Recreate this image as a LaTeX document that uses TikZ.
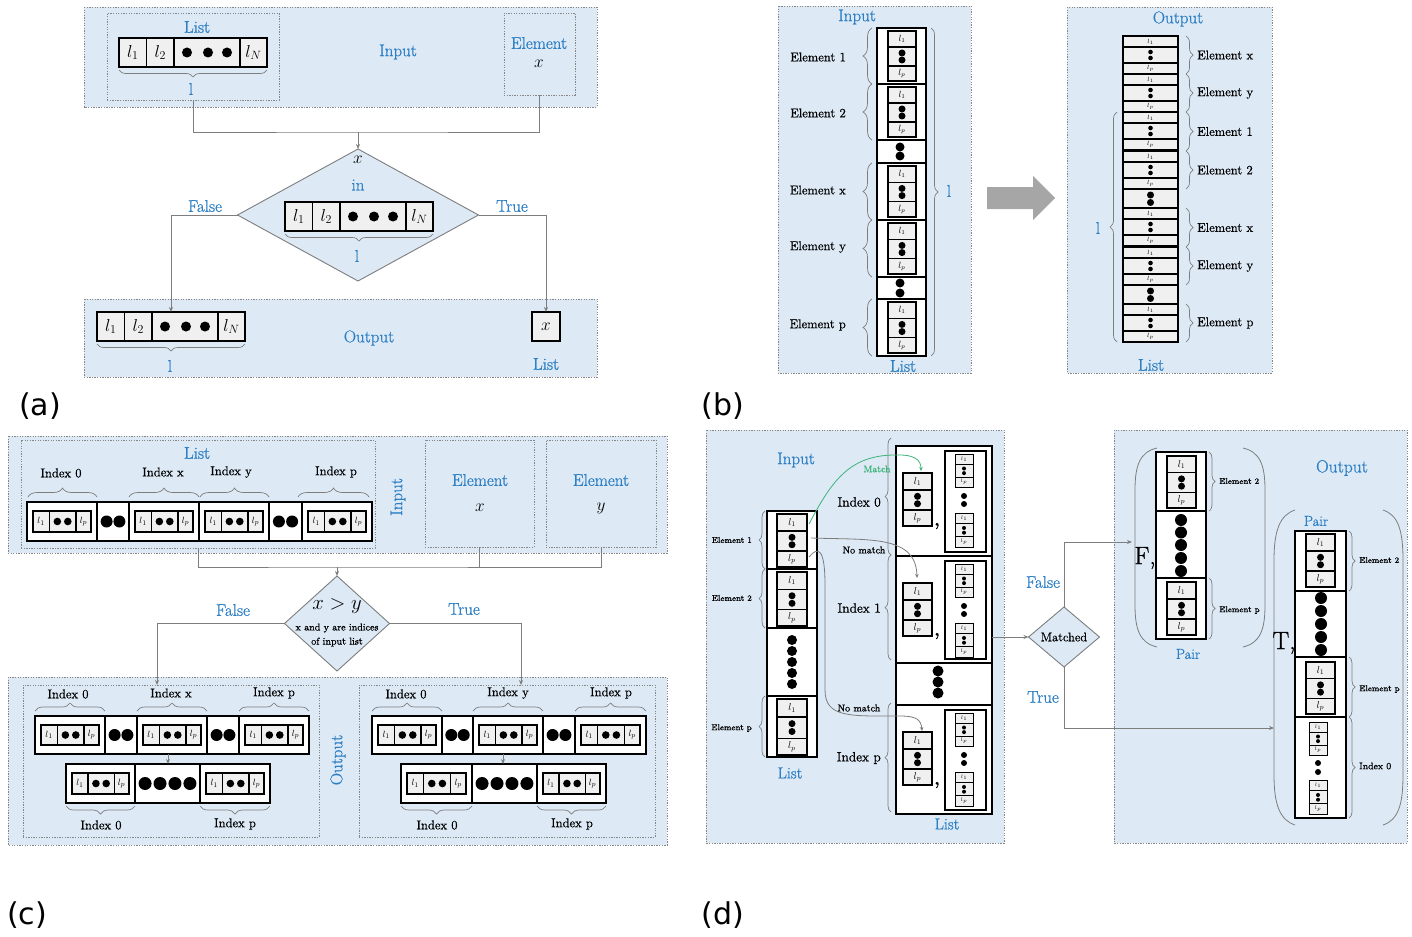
\documentclass[tikz,border=0pt]{standalone}
\usepackage{fontspec}
\setmainfont{Latin Modern Roman}[FakeBold=0.8]
\usetikzlibrary{shapes.geometric,arrows.meta,decorations.pathreplacing}
\newfontfamily\labfont{DejaVu Sans}
\definecolor{panelbg}{RGB}{221,233,245}
\definecolor{txtblue}{RGB}{46,128,196}
\definecolor{cellgray}{RGB}{240,240,240}
\definecolor{linegray}{RGB}{125,125,125}
\definecolor{dashgray}{RGB}{135,135,135}
\definecolor{matchgreen}{RGB}{60,180,120}
\definecolor{arrowgray}{RGB}{166,166,166}
\newcommand{\fsz}[1]{\fontsize{#1}{#1}\selectfont}
\tikzset{
  panel/.style={draw=dashgray, dash pattern=on 1.3pt off 1.3pt, line width=0.7pt, fill=panelbg},
  subpanel/.style={draw=dashgray, dash pattern=on 1.3pt off 1.3pt, line width=0.7pt},
  cellbox/.style={draw=black, line width=1.4pt, fill=cellgray},
  wcell/.style={draw=black, line width=1.4pt, fill=white},
  inl/.style={draw=black, line width=1.4pt},
  conn/.style={draw=linegray, line width=0.9pt},
  arr/.style={conn, -{Stealth[length=5pt,width=4pt]}},
  brc/.style={decorate, decoration={brace, amplitude=#1pt}, draw=linegray, line width=0.7pt},
  blab/.style={text=txtblue, inner sep=0},
  b16/.style={blab, font=\fsz{17}},
  k12/.style={inner sep=0, font=\fsz{12.8}},
  diam/.style={diamond, draw=linegray, fill=panelbg, line width=0.9pt, inner sep=0, outer sep=0},
  plab/.style={font=\labfont\fsz{30}, inner sep=0},
}
% vertical element: x y w h dotradius fontsize linewidth
\newcommand{\velem}[7]{%
  \draw[cellbox, line width=#7pt] ({#1},{#2}) rectangle ++({#3},{#4});
  \draw[inl, line width=#7pt] ({#1},{#2+0.32*(#4)}) -- ++({#3},0);
  \draw[inl, line width=#7pt] ({#1},{#2+0.70*(#4)}) -- ++({#3},0);
  \node[inner sep=0,font=\fsz{#6}] at ({#1+0.5*(#3)},{#2+0.16*(#4)}) {$l_1$};
  \fill ({#1+0.5*(#3)},{#2+0.44*(#4)}) circle (#5pt);
  \fill ({#1+0.5*(#3)},{#2+0.58*(#4)}) circle (#5pt);
  \node[inner sep=0,font=\fsz{#6}] at ({#1+0.5*(#3)},{#2+0.85*(#4)}) {$l_p$};
}
% horizontal element: x y w h dotradius fontsize linewidth
\newcommand{\helem}[7]{%
  \draw[cellbox, line width=#7pt] ({#1},{#2}) rectangle ++({#3},{#4});
  \draw[inl, line width=#7pt] ({#1+0.28*(#3)},{#2}) -- ++(0,{#4});
  \draw[inl, line width=#7pt] ({#1+0.74*(#3)},{#2}) -- ++(0,{#4});
  \node[inner sep=0,font=\fsz{#6}] at ({#1+0.14*(#3)},{#2+0.5*(#4)}) {$l_1$};
  \fill ({#1+0.42*(#3)},{#2+0.5*(#4)}) circle (#5pt);
  \fill ({#1+0.60*(#3)},{#2+0.5*(#4)}) circle (#5pt);
  \node[inner sep=0,font=\fsz{#6}] at ({#1+0.87*(#3)},{#2+0.5*(#4)}) {$l_p$};
}
% (c) cell with element
\newcommand{\cEl}[4]{%
  \draw[wcell] ({#1},{#2}) rectangle ++({#3},{#4});
  \helem{#1+6}{#2+9}{#3-12}{#4-18}{3.8}{9.5}{1.2}
}
\newcommand{\hdcell}[4]{%
  \draw[wcell] ({#1},{#2}) rectangle ++({#3},{#4});
  \fill ({#1+0.3*(#3)},{#2+0.5*(#4)}) circle (6pt);
  \fill ({#1+0.7*(#3)},{#2+0.5*(#4)}) circle (6pt);
}
\newcommand{\hdfour}[4]{%
  \draw[wcell] ({#1},{#2}) rectangle ++({#3},{#4});
  \foreach \k in {0.155,0.385,0.615,0.845}{\fill ({#1+\k*(#3)},{#2+0.5*(#4)}) circle (6.5pt);}
}
% braces
\newcommand{\brD}[4]{\draw[brc=#4] (#2,#3) -- (#1,#3);}
\newcommand{\brU}[4]{\draw[brc=#4] (#1,#3) -- (#2,#3);}
\newcommand{\brL}[4]{\draw[brc=#4] (#3,#2) -- (#3,#1);}
\newcommand{\brR}[4]{\draw[brc=#4] (#3,#1) -- (#3,#2);}
% named box
\newcommand{\boxnode}[6]{\node[#6, anchor=north west, inner sep=0, outer sep=0, minimum width={(#4)-(#2)}, minimum height={(#5)-(#3)}] (#1) at (#2,#3) {};}
% (a) array
\newcommand{\arrA}[3]{%
  \node[inner sep=0, outer sep=0, minimum width=148pt, minimum height=29pt, anchor=north west] (#1) at (#2,#3) {};
  \begin{scope}[shift={(#2,#3)}]
    \draw[cellbox] (0,0) rectangle (27.5,29);
    \draw[cellbox] (27.5,0) rectangle (55,29);
    \draw[cellbox] (55,0) rectangle (121,29);
    \draw[cellbox] (121,0) rectangle (148,29);
    \node[inner sep=0,font=\fsz{17}] at (13.75,14.5) {$l_1$};
    \node[inner sep=0,font=\fsz{17}] at (41.25,14.5) {$l_2$};
    \node[inner sep=0,font=\fsz{17}] at (134.5,14.5) {$l_N$};
    \fill (68,14.5) circle (5pt);
    \fill (89,14.5) circle (5pt);
    \fill (108,14.5) circle (5pt);
  \end{scope}
}
% (b) input element row
\newcommand{\bIn}[2]{%
  \draw[wcell] (877,#1) rectangle (926,#2);
  \velem{888}{#1+3}{28}{#2-#1-6}{3.5}{9}{1.3}
}
% (b) output element
\newcommand{\bOut}[1]{%
  \draw[cellbox, line width=1.2pt] (1123,{#1}) rectangle (1178,{#1+11});
  \draw[cellbox, line width=1.2pt] (1123,{#1+11}) rectangle (1178,{#1+27});
  \draw[cellbox, line width=1.2pt] (1123,{#1+27}) rectangle (1178,{#1+38});
  \node[inner sep=0,font=\fsz{6}] at (1150.5,{#1+5.5}) {$l_1$};
  \fill (1150.5,{#1+16}) circle (2.3pt);
  \fill (1150.5,{#1+22}) circle (2.3pt);
  \node[inner sep=0,font=\fsz{6}] at (1150.5,{#1+32.5}) {$l_p$};
}
% (d) input element row
\newcommand{\dIn}[2]{%
  \draw[wcell] (767,#1) rectangle (817,#2);
  \velem{777}{#1+3}{30}{#2-#1-5}{3.5}{10}{1.3}
}
% (d) index row: top, height
\newcommand{\dIdx}[2]{%
  \draw[wcell] (896,#1) rectangle (992,{#1+#2});
  \velem{903}{#1+27}{29}{53}{3.5}{10}{1.3}
  \node[inner sep=0,font=\fsz{18}\bfseries] at (937,{#1+80}) {,};
  \draw[wcell] (945,{#1+5}) rectangle (986,{#1+#2-4});
  \velem{955}{#1+8}{18}{33}{2}{5}{1}
  \fill (964,{#1+50}) circle (3pt);
  \fill (964,{#1+58}) circle (3pt);
  \velem{955}{#1+67}{18}{34}{2}{5}{1}
}
\begin{document}
\begin{tikzpicture}[x=1pt,y=-1pt]
\useasboundingbox (0,0) rectangle (1412,936);
% ================= (a) =================
\draw[panel] (84,7) rectangle (597,107);
\boxnode{aList}{107}{13}{279}{100}{subpanel}
\node[b16] at (197,27) {List};
\arrA{aArr1}{119}{38}
\brD{119}{267}{70}{7}
\node[b16] at (191,89) {l};
\node[b16] at (398,52) {Input};
\boxnode{aElem}{504}{13}{575}{95}{subpanel}
\node[b16] at (539,43) {Element};
\node[inner sep=0,font=\fsz{17}] at (539,64) {$x$};
\node[diam, minimum width=241pt, minimum height=132pt] (aD) at (358,215) {};
\node[inner sep=0,font=\fsz{16}] at (358,160) {$x$};
\node[b16] at (358,185) {in};
\arrA{aArr2}{285}{202}
\brD{285}{433}{234}{7}
\node[b16] at (357,256) {l};
\node[b16] at (205,206) {False};
\node[b16] at (512,206) {True};
\draw[panel] (84,299) rectangle (597,377);
\arrA{aArr3}{97}{312}
\brD{97}{245}{344}{7}
\node[b16] at (170,366) {l};
\node[b16] at (369,338) {Output};
\node[cellbox, minimum width=28pt, minimum height=29pt, anchor=north west, inner sep=0, outer sep=0, font=\fsz{17}] (aX) at (532,312) {$x$};
\node[b16] at (546,364) {List};
\coordinate (aJ) at (358,132);
\draw[conn] (aList.south) |- (aJ) -| (aElem.south);
\draw[arr] (aJ) -- (aD.north);
\draw[arr] (aD.west) -| (aArr3.north);
\draw[arr] (aD.east) -| (aX.north);
\node[plab] at (40,406) {(a)};
% ================= (b) =================
\draw[panel] (778,6) rectangle (971,373);
\node[b16] at (857,17) {Input};
\bIn{28}{84}
\bIn{84}{140}
\draw[wcell] (877,140) rectangle (926,163);
\fill (900,147) circle (4.5pt); \fill (900,156) circle (4.5pt);
\bIn{163}{220}
\bIn{220}{277}
\draw[wcell] (877,277) rectangle (926,299);
\fill (900,283) circle (4.5pt); \fill (900,293) circle (4.5pt);
\bIn{299}{356}
\draw[line width=1.6pt] (877,28) rectangle (926,356);
\brL{28}{84}{872}{9}
\brL{84}{140}{872}{9}
\brL{163}{220}{872}{9}
\brL{220}{277}{872}{9}
\brL{299}{356}{872}{9}
\node[k12, anchor=east] at (846,57) {Element 1};
\node[k12, anchor=east] at (846,113) {Element 2};
\node[k12, anchor=east] at (846,190) {Element x};
\node[k12, anchor=east] at (846,247) {Element y};
\node[k12, anchor=east] at (846,325) {Element p};
\brR{28}{356}{931}{7}
\node[b16] at (949,191) {l};
\node[b16] at (903,366) {List};
\fill[arrowgray] (987,187) -- (1033,187) -- (1033,176) -- (1055,198) -- (1033,220) -- (1033,209) -- (987,209) -- cycle;
\draw[panel] (1067,7) rectangle (1272,373);
\node[b16] at (1178,19) {Output};
\bOut{36}
\bOut{74}
\bOut{112}
\bOut{151}
\draw[cellbox, line width=1.2pt] (1123,189) rectangle (1178,208);
\fill (1150.5,195) circle (3.5pt); \fill (1150.5,202.5) circle (3.5pt);
\bOut{208}
\bOut{247}
\draw[cellbox, line width=1.2pt] (1123,285) rectangle (1178,304);
\fill (1150.5,291) circle (3.5pt); \fill (1150.5,298.5) circle (3.5pt);
\bOut{304}
\brR{36}{74}{1186}{7}
\brR{74}{112}{1186}{7}
\brR{112}{151}{1186}{7}
\brR{151}{189}{1186}{7}
\brR{208}{247}{1186}{7}
\brR{247}{285}{1186}{7}
\brR{304}{342}{1186}{7}
\node[k12, anchor=west] at (1197,55) {Element x};
\node[k12, anchor=west] at (1197,93) {Element y};
\node[k12, anchor=west] at (1197,131.5) {Element 1};
\node[k12, anchor=west] at (1197,170) {Element 2};
\node[k12, anchor=west] at (1197,227.5) {Element x};
\node[k12, anchor=west] at (1197,266) {Element y};
\node[k12, anchor=west] at (1197,323) {Element p};
\brL{112}{342}{1117}{7}
\node[b16] at (1098,228) {l};
\node[b16] at (1151,365) {List};
\node[plab] at (723,406) {(b)};
% ================= (c) =================
\draw[panel] (8,436) rectangle (667,553);
\boxnode{cList}{21}{440}{375}{548}{subpanel}
\node[b16] at (197,453) {List};
\cEl{27}{502}{70}{39}
\hdcell{97}{502}{32}{39}
\cEl{129}{502}{70}{39}
\cEl{199}{502}{70}{39}
\hdcell{269}{502}{33}{39}
\cEl{302}{502}{70}{39}
\brU{28}{97}{497}{9}
\brU{129}{199}{497}{9}
\brU{200}{269}{497}{9}
\brU{298}{369}{497}{9}
\node[k12] at (61,473) {Index 0};
\node[k12] at (163,472) {Index x};
\node[k12] at (231,472) {Index y};
\node[k12] at (336,472) {Index p};
\node[b16, rotate=90] at (398,497) {Input};
\boxnode{cEx}{425}{440}{534}{547}{subpanel}
\node[b16] at (480,480) {Element};
\node[inner sep=0,font=\fsz{17}] at (480,508) {$x$};
\boxnode{cEy}{546}{440}{656}{547}{subpanel}
\node[b16] at (601,480) {Element};
\node[inner sep=0,font=\fsz{17}] at (601,508) {$y$};
\node[diam, minimum width=105pt, minimum height=95pt] (cD) at (337,623.5) {};
\node[inner sep=0,font=\fsz{20}] at (337,606) {$x>y$};
\node[inner sep=0,font=\fsz{10}] at (337,628) {x and y are indices};
\node[inner sep=0,font=\fsz{10}] at (337,642) {of input list};
\node[b16] at (233,610) {False};
\node[b16] at (464,609) {True};
\draw[panel] (8,677) rectangle (667,845);
\boxnode{cOL}{23}{685}{319}{837}{subpanel}
\boxnode{cOR}{359}{685}{655}{837}{subpanel}
\node[b16, rotate=90] at (338,760) {Output};
% left output
\cEl{35}{716}{70}{38}
\hdcell{105}{716}{32}{38}
\cEl{137}{716}{70}{38}
\hdcell{207}{716}{32}{38}
\cEl{239}{716}{70}{38}
\brU{35}{105}{711}{8}
\brU{137}{207}{711}{8}
\brU{239}{309}{711}{8}
\node[k12] at (68,694) {Index 0};
\node[k12] at (171,693) {Index x};
\node[k12] at (274,693) {Index p};
\cEl{66}{764}{69}{39}
\hdfour{135}{764}{65}{39}
\cEl{200}{764}{70}{39}
\brD{66}{135}{806}{8}
\brD{200}{270}{806}{8}
\node[k12] at (101,825) {Index 0};
\node[k12] at (235,824) {Index p};
\coordinate (cLt) at (168,754);
\coordinate (cLb) at (168,764);
\draw[arr] (cLt) -- (cLb);
% right output
\cEl{372}{716}{70}{38}
\hdcell{442}{716}{31}{38}
\cEl{473}{716}{70}{38}
\hdcell{543}{716}{32}{38}
\cEl{575}{716}{71}{38}
\brU{372}{442}{711}{8}
\brU{473}{543}{711}{8}
\brU{575}{646}{711}{8}
\node[k12] at (406,694) {Index 0};
\node[k12] at (508,693) {Index y};
\node[k12] at (611,693) {Index p};
\cEl{401}{764}{71}{39}
\hdfour{472}{764}{65}{39}
\cEl{537}{764}{69}{39}
\brD{401}{472}{806}{8}
\brD{537}{606}{806}{8}
\node[k12] at (437,825) {Index 0};
\node[k12] at (572,824) {Index p};
\coordinate (cRt) at (503,754);
\coordinate (cRb) at (503,764);
\draw[arr] (cRt) -- (cRb);
% connectors
\coordinate (cJ) at (337,567);
\draw[conn] (cList.south) |- (cJ) -| (cEy.south);
\draw[conn] (cEx.south) -- (cEx.south |- cJ);
\draw[arr] (cJ) -- (cD.north);
\coordinate (cFt) at (157,685);
\coordinate (cTt) at (521,685);
\draw[arr] (cD.west) -| (cFt);
\draw[arr] (cD.east) -| (cTt);
\node[plab] at (27,915) {(c)};
% ================= (d) =================
\draw[panel] (706,430) rectangle (1004,843);
\node[b16] at (796,460) {Input};
\dIn{511}{569}
\dIn{569}{628}
\draw[wcell] (767,628) rectangle (817,696);
\foreach \yy in {640,651,662,673,684}{\fill (792,\yy) circle (5pt);}
\dIn{696}{757}
\brL{511}{569}{765}{6}
\brL{569}{628}{765}{6}
\brL{696}{757}{765}{6}
\node[inner sep=0, font=\fsz{8.5}, anchor=east] at (752,540) {Element 1};
\node[inner sep=0, font=\fsz{8.5}, anchor=east] at (752,598) {Element 2};
\node[inner sep=0, font=\fsz{8.5}, anchor=east] at (752,728) {Element p};
\node[blab, font=\fsz{16}] at (790,773) {List};
\dIdx{446}{110}
\dIdx{556}{107}
\draw[wcell] (896,663) rectangle (992,705);
\foreach \yy in {671,682,693}{\fill (938,\yy) circle (5.5pt);}
\dIdx{705}{109}
\draw[line width=1.6pt] (896,446) rectangle (992,814);
\brL{438}{555}{891}{6}
\brL{555}{660}{891}{6}
\brL{703}{812}{891}{6}
\node[inner sep=0, font=\fsz{13.5}, anchor=east] at (881,502) {Index 0};
\node[inner sep=0, font=\fsz{13.5}, anchor=east] at (881,608) {Index 1};
\node[inner sep=0, font=\fsz{13.5}, anchor=east] at (881,758) {Index p};
\node[blab, font=\fsz{16}] at (947,824) {List};
% curves
\coordinate (m0) at (809,524);
\coordinate (m1) at (921,471);
\draw[matchgreen, line width=0.8pt, -{Stealth[length=4pt,width=3.5pt]}] (m0) .. controls (832,480) and (850,456) .. (893,455) .. controls (915,454) and (921,460) .. (m1);
\node[inner sep=0, font=\fsz{9.5}, text=matchgreen] at (877,469) {Match};
\coordinate (n0) at (811,538);
\coordinate (n1) at (917,578);
\draw[conn, line width=0.8pt, -{Stealth[length=4pt,width=3.5pt]}] (n0) .. controls (870,540) and (916,535) .. (n1);
\node[inner sep=0, font=\fsz{10}] at (864,550) {No match};
\coordinate (p0) at (809,557);
\coordinate (p1) at (922,731);
\draw[conn, line width=0.8pt, -{Stealth[length=4pt,width=3.5pt]}] (p0) .. controls (818,546) and (825,548) .. (825,585) -- (825,690) .. controls (825,718) and (850,716) .. (900,716) .. controls (917,716) and (921,720) .. (p1);
\node[inner sep=0, font=\fsz{10}] at (859,708) {No match};
% output
\draw[panel] (1114,430) rectangle (1407,843);
\node[blab, font=\fsz{17.5}] at (1342,468) {Output};
\node[diam, minimum width=71pt, minimum height=60pt] (dM) at (1064,637) {};
\node[inner sep=0, font=\fsz{12.5}] at (1064,637) {Matched};
\node[b16] at (1043,582) {False};
\node[b16] at (1043,697) {True};
% F pair
\draw[linegray, line width=0.8pt] (1157,448) .. controls (1140,452) and (1135,465) .. (1135,490) -- (1135,605) .. controls (1135,630) and (1140,643) .. (1157,647);
\draw[linegray, line width=0.8pt] (1243,448) .. controls (1260,452) and (1265,465) .. (1265,490) -- (1265,605) .. controls (1265,630) and (1260,643) .. (1243,647);
\draw[wcell] (1156,452) rectangle (1206,511);
\velem{1167}{456}{29}{52}{3.5}{10}{1.3}
\draw[wcell] (1156,511) rectangle (1206,578);
\foreach \yy in {520,532.5,545,558,571}{\fill (1181,\yy) circle (6pt);}
\draw[wcell] (1156,578) rectangle (1206,639);
\velem{1167}{582}{29}{53}{3.5}{10}{1.3}
\brR{452}{511}{1209}{6}
\brR{578}{639}{1209}{6}
\node[inner sep=0, font=\fsz{8.5}, anchor=west] at (1219,481) {Element 2};
\node[inner sep=0, font=\fsz{8.5}, anchor=west] at (1219,610) {Element p};
\node[inner sep=0, font=\fsz{25}] at (1145,558) {F,};
\node[blab, font=\fsz{14.5}] at (1188,654) {Pair};
% T pair
\draw[linegray, line width=0.8pt] (1295,510) .. controls (1280,515) and (1274,530) .. (1274,560) -- (1274,775) .. controls (1274,805) and (1280,820) .. (1295,825);
\draw[linegray, line width=0.8pt] (1383,510) .. controls (1398,515) and (1403,530) .. (1403,560) -- (1403,775) .. controls (1403,805) and (1398,820) .. (1383,825);
\draw[wcell] (1295,531) rectangle (1346,591);
\velem{1306}{534}{29}{53}{3.5}{10}{1.3}
\draw[wcell] (1295,591) rectangle (1346,657);
\foreach \yy in {598,611,624,637,650}{\fill (1321,\yy) circle (6pt);}
\draw[wcell] (1295,657) rectangle (1346,717);
\velem{1306}{662}{29}{52}{3.5}{10}{1.3}
\draw[wcell] (1295,717) rectangle (1346,818);
\velem{1309}{722}{18}{33}{2}{5}{1}
\fill (1318,763) circle (3pt); \fill (1318,772) circle (3pt);
\velem{1309}{780}{18}{34}{2}{5}{1}
\brR{531}{591}{1349}{6}
\brR{657}{717}{1349}{6}
\brR{717}{818}{1349}{6}
\node[inner sep=0, font=\fsz{8.5}, anchor=west] at (1359,560) {Element 2};
\node[inner sep=0, font=\fsz{8.5}, anchor=west] at (1359,689) {Element p};
\node[inner sep=0, font=\fsz{9.5}, anchor=west] at (1359,766) {Index 0};
\node[inner sep=0, font=\fsz{25}] at (1284,643) {T,};
\node[blab, font=\fsz{14.5}] at (1316,521) {Pair};
% (d) connectors
\coordinate (dIn) at (992,637);
\coordinate (fT) at (1132,542);
\coordinate (tT) at (1274,728);
\draw[arr] (dIn) -- (dM.west);
\draw[arr] (dM.north) |- (fT);
\draw[arr] (dM.south) |- (tT);
\node[plab] at (723,915) {(d)};
\end{tikzpicture}
\end{document}
